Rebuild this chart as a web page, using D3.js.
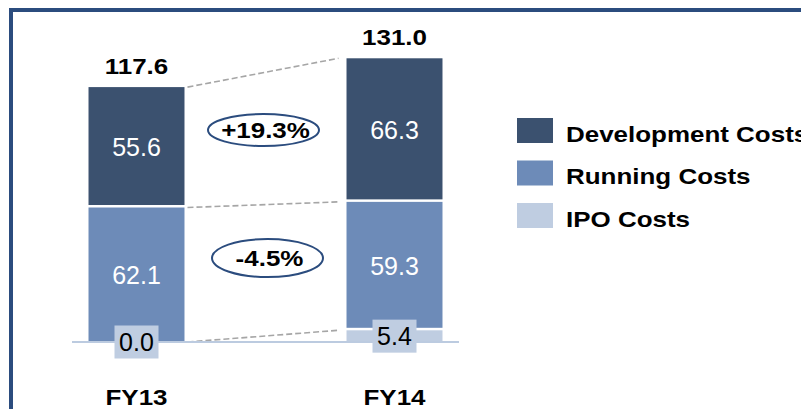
<!DOCTYPE html>
<html>
<head>
<meta charset="utf-8">
<script src="https://cdn.jsdelivr.net/npm/d3@7"></script>
<style>
  body { margin: 0; background: #fff; }
  svg { display: block; }
  text { font-family: Arial, "Liberation Sans", sans-serif; }
</style>
</head>
<body>
<svg id="chart" width="801" height="409"></svg>
<script>
// data
const categories = ['FY13', 'FY14'];
const series = ['IPO Costs', 'Running Costs', 'Development Costs'];
const ipo_costs = [0.0, 5.4];
const running_costs = [62.1, 59.3];
const development_costs = [55.6, 66.3];
const totals = ['117.6', '131.0'];
const change_labels = ['+19.3%', '-4.5%'];
const legend_labels = ['Development Costs', 'Running Costs', 'IPO Costs'];

const colors = {
  'Development Costs': '#3b516f',
  'Running Costs': '#6d8bb8',
  'IPO Costs': '#bfcde1',
};

const svg = d3.select('#chart');

/**
 * frame around the chart
 */
svg.append('rect')
  .attr('x', 11).attr('y', 10)
  .attr('width', 820).attr('height', 430)
  .attr('fill', 'none')
  .attr('stroke', '#2b4c7e')
  .attr('stroke-width', 4);

/**
 * scales
 */
const xScale = d3.scaleBand()
  .domain(categories)
  .range([72, 459])
  .paddingInner(0.628)
  .paddingOuter(0.064);

const yScale = d3.scaleLinear()
  .domain([0, 140])
  .range([342, 38.8]);

// stack the three series per category
const table = categories.map((c, i) => ({
  cat: c,
  'IPO Costs': ipo_costs[i],
  'Running Costs': running_costs[i],
  'Development Costs': development_costs[i],
}));
const stacked = d3.stack().keys(series)(table);

// helper for the bold labels (the source font is rendered a bit wide)
function bold_text(g, x, y, str, size) {
  return g.append('text')
    .attr('transform', `translate(${x},${y}) scale(1.18,1)`)
    .attr('text-anchor', 'middle')
    .attr('font-weight', 'bold')
    .attr('font-size', size)
    .attr('fill', '#000')
    .text(str);
}

/**
 * dashed connectors between segment tops
 */
const g_lines = svg.append('g');
stacked.forEach((layer) => {
  const a = layer[0], b = layer[1];
  g_lines.append('line')
    .attr('x1', xScale('FY13') + xScale.bandwidth() + 3)
    .attr('y1', yScale(a[1]))
    .attr('x2', xScale('FY14') - 8)
    .attr('y2', yScale(b[1]))
    .attr('stroke', '#a6a6a6')
    .attr('stroke-width', 1.6)
    .attr('stroke-dasharray', '6,3');
});

/**
 * bars
 */
const g_bars = svg.append('g');
stacked.forEach((layer) => {
  g_bars.selectAll('.seg_' + layer.index)
    .data(layer)
    .enter()
    .append('rect')
    .attr('class', 'seg_' + layer.index)
    .attr('x', (d) => xScale(d.data.cat))
    .attr('y', (d) => yScale(d[1]))
    .attr('width', xScale.bandwidth())
    .attr('height', (d) => {
      const h = yScale(d[0]) - yScale(d[1]) - (d[0] > 0 ? 2.5 : 0);
      return Math.max(0, h);
    })
    .attr('fill', colors[layer.key]);
});

/**
 * baseline
 */
svg.append('line')
  .attr('x1', xScale.range()[0])
  .attr('x2', xScale.range()[1])
  .attr('y1', yScale(0))
  .attr('y2', yScale(0))
  .attr('stroke', '#bccbe0')
  .attr('stroke-width', 2);

/**
 * segment value labels
 */
const g_labels = svg.append('g');
stacked.forEach((layer) => {
  layer.forEach((d) => {
    const cx = xScale(d.data.cat) + xScale.bandwidth() / 2;
    const mid = (yScale(d[0]) + yScale(d[1])) / 2;
    const value = d.data[layer.key].toFixed(1);
    if (layer.key === 'IPO Costs') {
      g_labels.append('rect')
        .attr('x', cx - 22)
        .attr('y', mid - 16.5)
        .attr('width', 44)
        .attr('height', 33)
        .attr('fill', colors['IPO Costs']);
      g_labels.append('text')
        .attr('x', cx)
        .attr('y', mid + 9)
        .attr('text-anchor', 'middle')
        .attr('font-size', 25)
        .attr('fill', '#000')
        .text(value);
    } else {
      g_labels.append('text')
        .attr('x', cx)
        .attr('y', mid + 9)
        .attr('text-anchor', 'middle')
        .attr('font-size', 25)
        .attr('fill', '#fff')
        .text(value);
    }
  });
});

/**
 * totals above bars and category labels below
 */
const top_layer = stacked[stacked.length - 1];
top_layer.forEach((d, i) => {
  const cx = xScale(d.data.cat) + xScale.bandwidth() / 2;
  bold_text(svg, cx, yScale(d[1]) - 13, totals[i], 22);
  bold_text(svg, cx, 405, d.data.cat, 22);
});

/**
 * change bubbles between the bars
 */
const bubble_layers = [stacked[2], stacked[1]];
const bubble_dy = [0, -8];
const bubble_ry = [16, 19];
const bx = (xScale('FY13') + xScale.bandwidth() + xScale('FY14')) / 2;
bubble_layers.forEach((layer, i) => {
  const d = layer[1];
  const cy = (yScale(d[0]) + yScale(d[1])) / 2 + bubble_dy[i];
  const cx = bx + (i === 0 ? -2 : 2);
  svg.append('ellipse')
    .attr('cx', cx)
    .attr('cy', cy)
    .attr('rx', 55.5)
    .attr('ry', bubble_ry[i])
    .attr('fill', 'none')
    .attr('stroke', '#2b4c7e')
    .attr('stroke-width', 2);
  bold_text(svg, cx + 2, cy + 8, change_labels[i], 22);
});

/**
 * legend
 */
const g_legend = svg.append('g').attr('transform', 'translate(517,118)');
legend_labels.forEach((name, i) => {
  g_legend.append('rect')
    .attr('x', 0)
    .attr('y', i * 42.5)
    .attr('width', 36)
    .attr('height', 25)
    .attr('fill', colors[name]);
  g_legend.append('text')
    .attr('transform', `translate(49,${i * 42.5 + 23.5}) scale(1.18,1)`)
    .attr('font-weight', 'bold')
    .attr('font-size', 22)
    .attr('fill', '#000')
    .text(name);
});
</script>
</body>
</html>
